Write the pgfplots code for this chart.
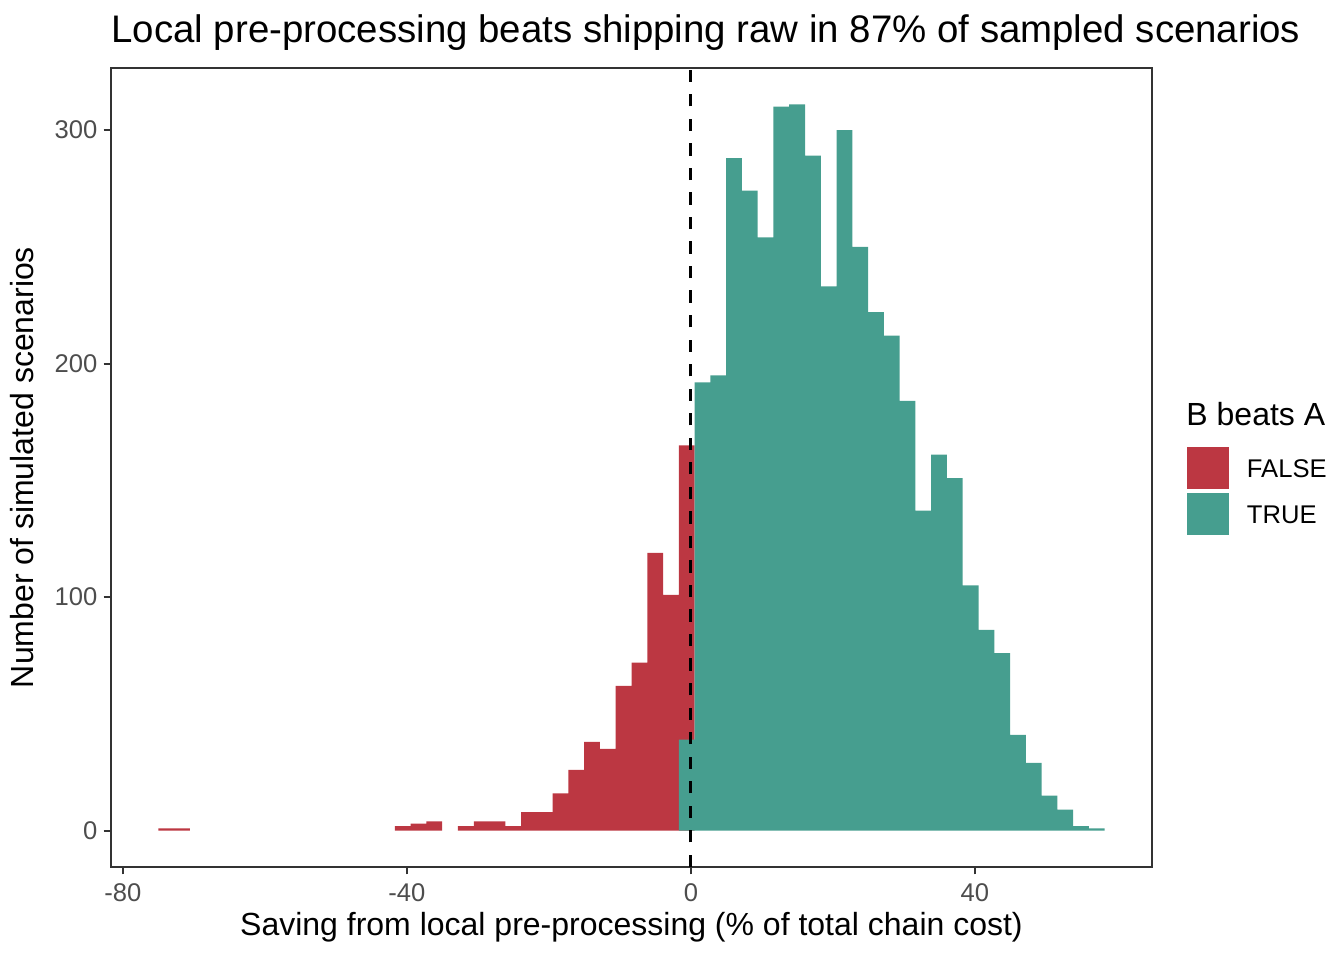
\documentclass[border=0pt]{standalone}
\usepackage{fontspec}
\setmainfont{Liberation Sans}
\usepackage{pgfplots}
\pgfplotsset{compat=1.18}
\usepackage{pgfplotstable}
\definecolor{cfalse}{RGB}{188,55,66}
\definecolor{ctrue}{RGB}{70,158,143}
\definecolor{grey20}{RGB}{51,51,51}
\definecolor{grey30}{RGB}{77,77,77}

% bin centre (bin width 2.2215), count, and the TRUE count stacked below it
\pgfplotstableread{
x n base
-73.909 1 0
-71.688 1 0
-40.587 2 0
-38.365 3 0
-36.144 4 0
-31.701 2 0
-29.479 4 0
-27.258 4 0
-25.036 2 0
-22.815 8 0
-20.593 8 0
-18.372 16 0
-16.150 26 0
-13.929 38 0
-11.707 35 0
-9.486 62 0
-7.264 72 0
-5.043 119 0
-2.821 101 0
-0.600 126 39
}\falsedata

\pgfplotstableread{
x n
-0.600 39
1.622 192
3.844 195
6.065 288
8.287 274
10.508 254
12.730 310
14.951 311
17.173 289
19.394 233
21.616 300
23.837 250
26.059 222
28.280 212
30.502 184
32.723 137
34.945 161
37.166 151
39.388 105
41.609 86
43.831 76
46.052 41
48.274 29
50.495 15
52.717 9
54.938 2
57.160 1
}\truedata

\begin{document}
\begin{tikzpicture}
\useasboundingbox (-41.625pt,-34.875pt) rectangle (462.375pt,325.125pt);
\begin{axis}[
  name=ax,
  at={(0pt,0pt)}, anchor=south west,
  scale only axis, width=390.375pt, height=299.625pt,
  xmin=-81.68, xmax=64.93, ymin=-15.55, ymax=326.55,
  axis line style={grey20, line width=0.8pt},
  xtick={-80,-40,0,40}, ytick={0,100,200,300},
  minor tick num=0,
  xtick pos=bottom, ytick pos=left,
  tick align=outside, major tick length=2.75pt,
  tick style={grey20, line width=0.8pt},
  scaled ticks=false,
  /pgf/number format/assume math mode=true,
  /pgf/number format/1000 sep={},
  ticklabel style={font=\fontsize{9.6}{11}\selectfont, text=grey30},
  xticklabel style={anchor=base, inner sep=0pt, yshift=-10pt},
  yticklabel style={anchor=east, inner sep=0pt, xshift=-2.2pt},
  title={Local pre-processing beats shipping raw in 87\% of sampled scenarios},
  title style={at={(axis description cs:0,1.0114)}, anchor=base west, inner sep=0pt, font=\fontsize{14.4}{17}\selectfont},
  xlabel={Saving from local pre-processing (\% of total chain cost)},
  xlabel style={at={(axis description cs:0.5,-0.0851)}, anchor=base, inner sep=0pt, font=\fontsize{12}{14}\selectfont},
  ylabel={Number of simulated scenarios},
  ylabel style={at={(axis description cs:-0.074,0.5)}, anchor=base, inner sep=0pt, font=\fontsize{12}{14}\selectfont},
  legend style={at={(axis description cs:1.0336,0.526)}, anchor=north west, draw=none, fill=none,
    inner sep=0pt, outer sep=0pt, row sep=1.5pt, column sep=0pt,
    font=\fontsize{9.6}{11}\selectfont, cells={anchor=west}, nodes={inner sep=0pt}},
]
\addplot[ybar, bar width=2.2215, bar shift=0pt, fill=cfalse, draw=none,
  legend image code/.code={\fill[cfalse] (0pt,-6.875pt) rectangle (15.75pt,8.875pt); \path (22.5pt,0pt);}]
  table[x=x, y expr=\thisrow{n}+\thisrow{base}] {\falsedata};
\addlegendentry{FALSE}
\addplot[ybar, bar width=2.2215, bar shift=0pt, fill=ctrue, draw=none,
  legend image code/.code={\fill[ctrue] (0pt,-6.875pt) rectangle (15.75pt,8.875pt); \path (22.5pt,0pt);}]
  table[x=x, y=n] {\truedata};
\addlegendentry{TRUE}
\addplot[black, line width=1.1pt, dash pattern=on 4.6pt off 4.6pt, forget plot]
  coordinates {(0,-15.55) (0,326.55)};
\end{axis}
\node[anchor=base west, inner sep=0pt, font=\fontsize{12}{14}\selectfont] at (403.1pt,165.4pt) {B beats A};
\end{tikzpicture}
\end{document}
